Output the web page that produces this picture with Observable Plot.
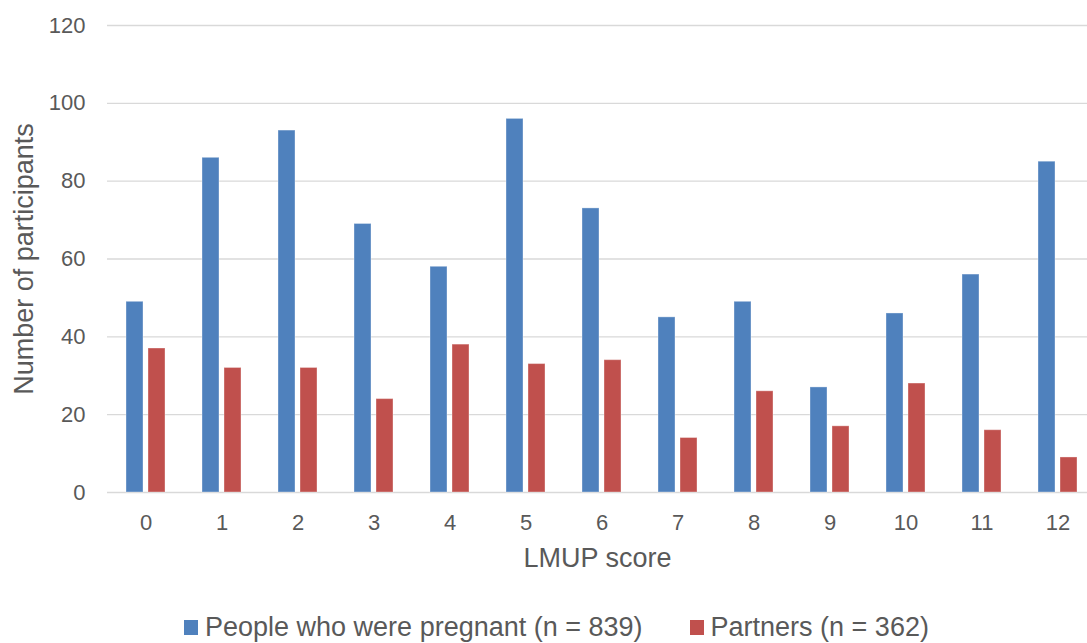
<!DOCTYPE html>
<html>
<head>
<meta charset="utf-8">
<script src="https://cdn.jsdelivr.net/npm/d3@7"></script>
<script src="https://cdn.jsdelivr.net/npm/@observablehq/plot@0.6"></script>
<style>
  html, body { margin: 0; padding: 0; background: #fff; }
  #wrap { position: relative; width: 1087px; height: 643px; font-family: "Liberation Sans", Arial, sans-serif; color: #595959; }
  #legend { position: absolute; left: 184px; top: 612px; display: flex; align-items: center; font-size: 27px; white-space: nowrap; }
  .item { display: flex; align-items: center; }
  .sw { width: 14px; height: 15px; margin-right: 7px; }
</style>
</head>
<body>
<div id="wrap">
  <div id="chart"></div>
  <div id="legend"></div>
</div>
<script>
const scores = ["0","1","2","3","4","5","6","7","8","9","10","11","12"];
const pregnant = [49, 86, 93, 69, 58, 96, 73, 45, 49, 27, 46, 56, 85];
const partners = [37, 32, 32, 24, 38, 33, 34, 14, 26, 17, 28, 16, 9];
const seriesNames = ["People who were pregnant (n = 839)", "Partners (n = 362)"];
const seriesColors = ["#4F81BD", "#C0504D"];
const yTicks = [0, 20, 40, 60, 80, 100, 120];
const xTitle = "LMUP score";
const yTitle = "Number of participants";

const rowsA = scores.map((s, i) => ({score: s, value: pregnant[i], series: seriesNames[0]}));
const rowsB = scores.map((s, i) => ({score: s, value: partners[i], series: seriesNames[1]}));

const textColor = "#595959";
const chart = Plot.plot({
  width: 1087,
  height: 600,
  marginLeft: 107,
  marginRight: 0,
  marginTop: 25,
  marginBottom: 108,
  style: {fontFamily: "'Liberation Sans', Arial, sans-serif", fontSize: "22px", color: textColor, background: "#fff"},
  x: {domain: scores, range: [106, 1097], paddingInner: 0.777, paddingOuter: 0.3885, label: null},
  y: {domain: [0, 120], ticks: yTicks, label: null},
  marks: [
    Plot.ruleY(yTicks, {stroke: "#d9d9d9", strokeWidth: 1.3}),
    Plot.barY(rowsA, {x: "score", y: "value", fill: seriesColors[0], dx: -11, stroke: "#ffffff", strokeOpacity: 0.35, strokeWidth: 1}),
    Plot.barY(rowsB, {x: "score", y: "value", fill: seriesColors[1], dx: 11, stroke: "#ffffff", strokeOpacity: 0.35, strokeWidth: 1}),
    Plot.axisY({ticks: yTicks, tickSize: 0, tickPadding: 22, fontSize: 22, fill: textColor, label: null}),
    Plot.axisX({tickSize: 0, tickPadding: 22, fontSize: 22, fill: textColor, label: null}),
    Plot.text([xTitle], {frameAnchor: "bottom", dy: 74, fontSize: 27, fill: textColor}),
    Plot.text([yTitle], {frameAnchor: "left", dx: -83, rotate: -90, textAnchor: "middle", fontSize: 27, fill: textColor})
  ]
});
document.getElementById("chart").appendChild(chart);

const legend = document.getElementById("legend");
seriesNames.forEach((name, i) => {
  const item = document.createElement("div");
  item.className = "item";
  if (i > 0) item.style.marginLeft = "47px";
  const sw = document.createElement("div");
  sw.className = "sw";
  sw.style.background = seriesColors[i];
  const label = document.createElement("span");
  label.textContent = name;
  item.appendChild(sw);
  item.appendChild(label);
  legend.appendChild(item);
});
</script>
</body>
</html>
